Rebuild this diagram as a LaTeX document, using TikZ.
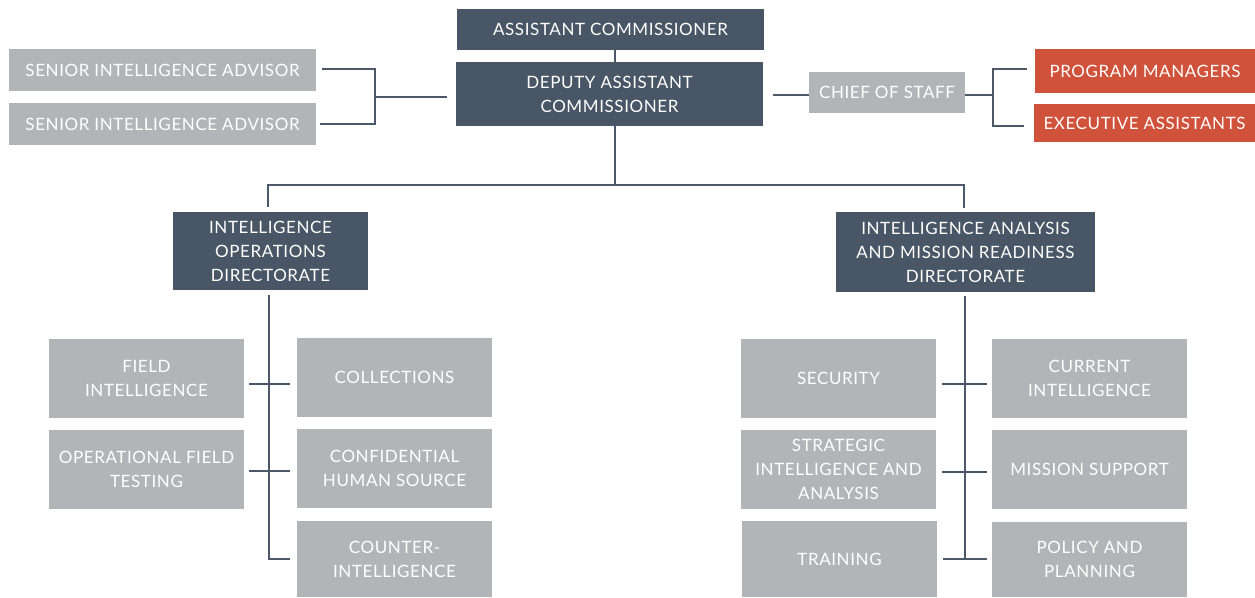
\documentclass[tikz,border=0pt]{standalone}
\usepackage{fontspec}
\setmainfont{Lato}[LetterSpace=3.5]
\usetikzlibrary{calc}
\definecolor{dkbox}{HTML}{485666}
\definecolor{gybox}{HTML}{B3B4B8}
\definecolor{orbox}{HTML}{D0523A}
\definecolor{ln}{HTML}{4A5868}
\tikzset{
  base/.style={inner sep=0pt, align=center, text=white, font=\fontsize{17}{24}\selectfont},
  dk/.style={base, fill=dkbox},
  gy/.style={base, fill=gybox},
  orb/.style={base, fill=orbox},
  conn/.style={draw=ln, line width=2.8pt},
}
\begin{document}
\begin{tikzpicture}[x=1pt,y=-1pt]
\useasboundingbox (0,0) rectangle (1255,597);
% top
\node[dk, minimum width=307, minimum height=41] (ac) at (610.5,29.5) {ASSISTANT COMMISSIONER};
\node[dk, minimum width=307, minimum height=64] (dac) at (609.5,94) {DEPUTY ASSISTANT\\COMMISSIONER};
\node[gy, minimum width=307, minimum height=42] (sia1) at (162.5,70) {SENIOR INTELLIGENCE ADVISOR};
\node[gy, minimum width=307, minimum height=42] (sia2) at (162.5,124) {SENIOR INTELLIGENCE ADVISOR};
\node[gy, minimum width=156, minimum height=41] (cos) at (887,92.5) {CHIEF OF STAFF};
\node[orb, minimum width=220, minimum height=44] (pm) at (1145,71) {PROGRAM MANAGERS};
\node[orb, minimum width=221, minimum height=38] (ea) at (1144.5,123) {EXECUTIVE ASSISTANTS};
% directorates
\node[dk, minimum width=195, minimum height=78] (iod) at (270.5,251) {INTELLIGENCE\\OPERATIONS\\DIRECTORATE};
\node[dk, minimum width=259, minimum height=80] (iam) at (965.5,252) {INTELLIGENCE ANALYSIS\\AND MISSION READINESS\\DIRECTORATE};
% left group
\node[gy, minimum width=195, minimum height=79] (fi) at (146.5,378.5) {FIELD\\INTELLIGENCE};
\node[gy, minimum width=195, minimum height=79] (oft) at (146.5,469.5) {OPERATIONAL FIELD\\TESTING};
\node[gy, minimum width=195, minimum height=79] (col) at (394.5,377.5) {COLLECTIONS};
\node[gy, minimum width=195, minimum height=79] (chs) at (394.5,468.5) {CONFIDENTIAL\\HUMAN SOURCE};
\node[gy, minimum width=195, minimum height=76] (ci) at (394.5,559) {COUNTER-\\INTELLIGENCE};
% right group
\node[gy, minimum width=195, minimum height=79] (sec) at (838.5,378.5) {SECURITY};
\node[gy, minimum width=195, minimum height=79] (sia) at (838.5,469.5) {STRATEGIC\\INTELLIGENCE AND\\ANALYSIS};
\node[gy, minimum width=195, minimum height=76] (tr) at (839.5,559) {TRAINING};
\node[gy, minimum width=195, minimum height=79] (cur) at (1089.5,378.5) {CURRENT\\INTELLIGENCE};
\node[gy, minimum width=195, minimum height=79] (ms) at (1089.5,469.5) {MISSION SUPPORT};
\node[gy, minimum width=195, minimum height=75] (pp) at (1089.5,559.5) {POLICY AND\\PLANNING};
% junction coordinates
\coordinate (busM) at (615,185);
\coordinate (busL) at (268,185);
\coordinate (busR) at (964,185);
\coordinate (advJ) at (375,97);
\coordinate (cosJ) at (993,95);
\coordinate (lSpine) at (269,559);
\coordinate (rSpine) at (965,559);
% connectors
\draw[conn] (ac.south -| busM) -- (dac.north -| busM);
\draw[conn] (dac.south -| busM) -- (busM);
\draw[conn] ([yshift=5pt]iod.north -| busL) -- (busL) -- (busR) -- ([yshift=4pt]iam.north -| busR);
% advisors
\draw[conn] ($(sia1.east)+(6,-1)$) -| (advJ) |- ($(sia2.east)+(4,0)$);
\draw[conn] (advJ) -- ($(dac.west)+(-9,3)$);
% chief of staff
\draw[conn] ($(dac.east)+(10,1)$) -- ($(cos.west)+(0,2.5)$);
\draw[conn] ($(cos.east)+(0,2.5)$) -- (cosJ);
\draw[conn] ($(pm.west)+(-8,-2)$) -| (cosJ) |- ($(ea.west)+(-10,3)$);
% left spine
\draw[conn] ([yshift=-5pt]iod.south -| lSpine) -- (lSpine) -- ($(ci.west)+(-7,0)$);
\draw[conn] ($(fi.east)+(5,5.5)$) -- ($(col.west)+(-7,6.5)$);
\draw[conn] ($(oft.east)+(5,1.5)$) -- ($(chs.west)+(-7,2.5)$);
% right spine
\draw[conn] ([yshift=-4pt]iam.south -| rSpine) -- (rSpine);
\draw[conn] ($(tr.east)+(6,0)$) -- ($(pp.west)+(-5,-0.5)$);
\draw[conn] ($(sec.east)+(6,5.5)$) -- ($(cur.west)+(-5,5.5)$);
\draw[conn] ($(sia.east)+(6,2.5)$) -- ($(ms.west)+(-5,2.5)$);
\end{tikzpicture}
\end{document}
